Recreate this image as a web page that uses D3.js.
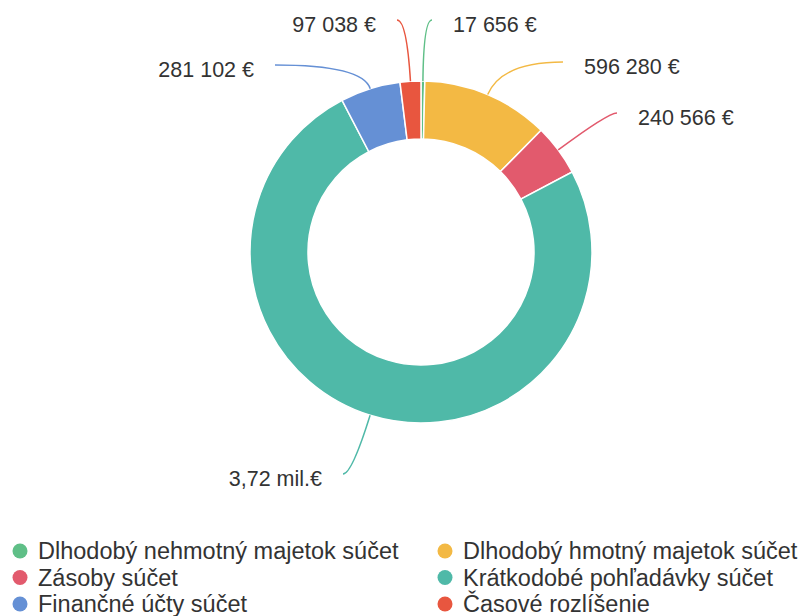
<!DOCTYPE html>
<html>
<head>
<meta charset="utf-8">
<script src="https://cdn.jsdelivr.net/npm/d3@7"></script>
<style>
  html, body { margin: 0; padding: 0; background: #fff; }
  text { font-family: "Liberation Sans", Arial, sans-serif; fill: #333; }
</style>
</head>
<body>
<svg id="chart"></svg>
<script>
// Data
const categories = [
    "Dlhodobý nehmotný majetok súčet",
    "Dlhodobý hmotný majetok súčet",
    "Zásoby súčet",
    "Krátkodobé pohľadávky súčet",
    "Finančné účty súčet",
    "Časové rozlíšenie"
];
const values = [17656, 596280, 240566, 3720000, 281102, 97038];
const colors = ["#5fbf87", "#f3b944", "#e25a6d", "#4fb9a8", "#6590d5", "#e8563f"];

// where each leader line ends, relative to the donut centre
const labelEnds = [[11, -232], [142, -190], [196, -139], [-78, 222], [-146, -187], [-24, -232]];

const W = 808, H = 616;
const cx = 421, cy = 252;
const outerR = 171, innerR = 113;

const svg = d3.select('#chart').attr('width', W).attr('height', H);

const fmt = v => v >= 1e6
    ? (v / 1e6).toFixed(2).replace('.', ',') + ' mil.€'
    : d3.format(',')(v).replace(/,/g, ' ') + ' €';

const pie = d3.pie().sort(null).value(d => d.value);
const arc = d3.arc().innerRadius(innerR).outerRadius(outerR);

const data = categories.map((c, i) => ({ name: c, value: values[i], color: colors[i], end: labelEnds[i] }));
const arcs = pie(data);

const g = svg.append('g').attr('transform', `translate(${cx},${cy})`);

g.selectAll('path.slice')
    .data(arcs)
    .enter()
    .append('path')
    .attr('class', 'slice')
    .attr('d', arc)
    .attr('fill', d => d.data.color)
    .attr('stroke', '#fff')
    .attr('stroke-width', 1.5);

// Leader lines: leave the slice radially, bend towards the label
arcs.forEach(d => {
    const mid = (d.startAngle + d.endAngle) / 2;
    const sx = Math.sin(mid) * outerR, sy = -Math.cos(mid) * outerR;
    const [ex, ey] = d.data.end;
    // control point on the radial line at the label's height
    const t = Math.abs(ey / Math.cos(mid));
    const kx = Math.sin(mid) * t, ky = ey;
    const p = d3.path();
    p.moveTo(sx, sy);
    p.quadraticCurveTo(kx, ky, ex, ey);
    g.append('path')
        .attr('d', p.toString())
        .attr('fill', 'none')
        .attr('stroke', d.data.color)
        .attr('stroke-width', 1.5);

    const right = ex > 0;
    g.append('text')
        .attr('x', ex + (right ? 21 : -21))
        .attr('y', ey + 4.5)
        .attr('dy', '0.35em')
        .attr('text-anchor', right ? 'start' : 'end')
        .style('font-size', '21.5px')
        .text(fmt(d.data.value));
});

// Legend, two columns
const legend = svg.append('g');
const item = legend.selectAll('g.item')
    .data(data)
    .enter()
    .append('g')
    .attr('class', 'item')
    .attr('transform', (d, i) => `translate(${i % 2 === 0 ? 20 : 445},${551 + Math.floor(i / 2) * 26.5})`);

item.append('circle')
    .attr('r', 7.5)
    .attr('fill', d => d.color);

item.append('text')
    .attr('x', 18)
    .attr('dy', '0.35em')
    .style('font-size', '23.5px')
    .text(d => d.name);
</script>
</body>
</html>
